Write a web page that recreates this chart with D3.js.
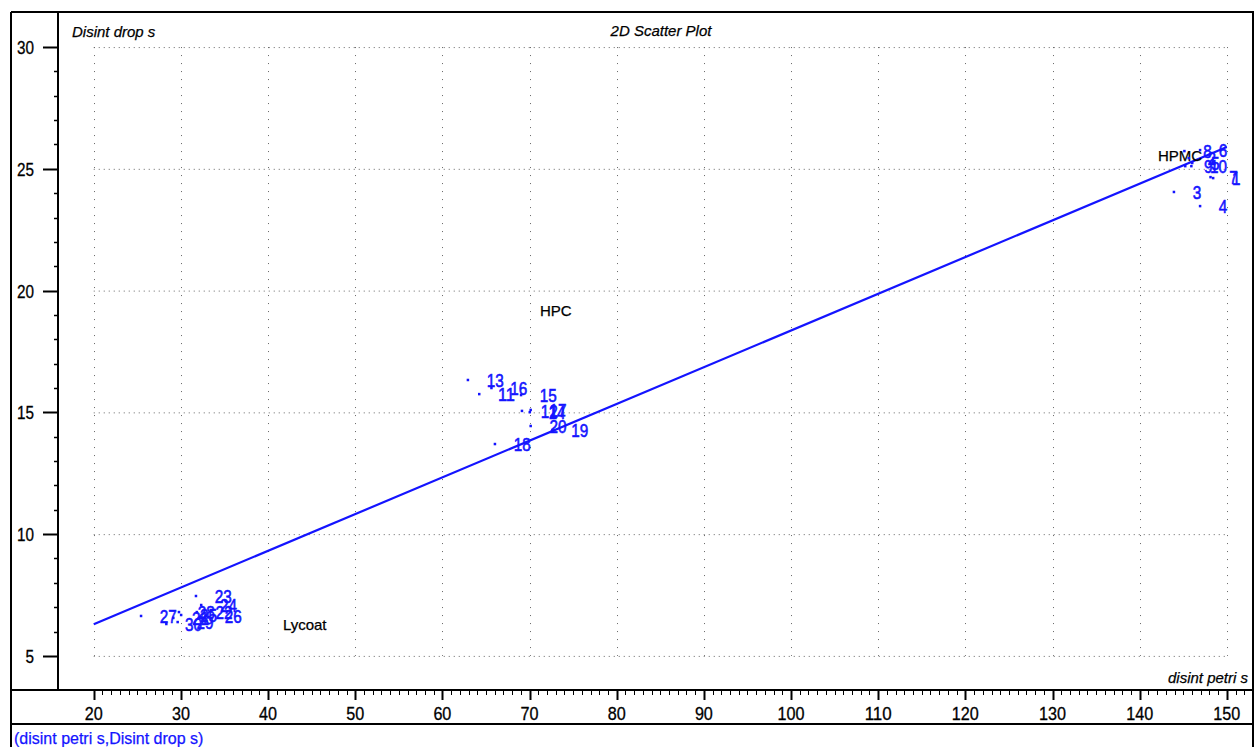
<!DOCTYPE html>
<html>
<head>
<meta charset="utf-8">
<script src="https://cdn.jsdelivr.net/npm/d3@7"></script>
<style>
  body { margin: 0; background: #fff; }
  text { font-family: Arial, "Liberation Sans", sans-serif; }
</style>
</head>
<body>
<div id="chart"></div>
<script>
// ---- data ----
const sampleIds = [1, 2, 3, 4, 5, 6, 7, 8, 9, 10,
                   11, 12, 13, 14, 15, 16, 17, 18, 19, 20,
                   21, 22, 23, 24, 25, 26, 27, 28, 29, 30];
const petri = [148.4, 145.6, 143.9, 146.9, 146.0, 146.9, 148.1, 145.1, 145.2, 145.9,
               64.2, 69.1, 62.9, 70.0, 69.0, 65.6, 70.1, 66.0, 72.6, 70.1,
               29.1, 31.8, 31.7, 32.3, 30.0, 32.85, 25.4, 29.75, 29.6, 28.3];
const drop = [24.63, 25.45, 24.06, 23.48, 25.25, 25.78, 24.67, 25.74, 25.12, 25.12,
              15.76, 15.07, 16.34, 15.02, 15.72, 16.01, 15.11, 13.71, 14.29, 14.45,
              6.57, 6.81, 7.47, 7.10, 6.69, 6.65, 6.65, 6.81, 6.40, 6.32];

const groupNames = ["HPMC", "HPC", "Lycoat"];
const groupX = [142.1, 71.2, 41.7];
const groupY = [25.33, 18.97, 6.08];

const fitX = [20, 150];
const fitY = [6.3, 25.9];

const xTicks = [20, 30, 40, 50, 60, 70, 80, 90, 100, 110, 120, 130, 140, 150];
const yTicks = [5, 10, 15, 20, 25, 30];

// ---- layout ----
const W = 1254, H = 747;
const plot = { left: 58, right: 1253, top: 12, bottom: 690 };
const blue = "#1414ff";

const svg = d3.select("#chart").append("svg")
  .attr("width", W)
  .attr("height", H);

const x = d3.scaleLinear().domain([15.9, 153.0]).range([plot.left, plot.right]);
const y = d3.scaleLinear().domain([3.6, 31.44]).range([plot.bottom, plot.top]);

// grid (dotted)
svg.append("g").selectAll("line").data(yTicks).join("line")
  .attr("x1", x(20)).attr("x2", x(150))
  .attr("y1", d => y(d) + 0.5).attr("y2", d => y(d) + 0.5)
  .attr("stroke", "#666").attr("stroke-width", 1)
  .attr("stroke-dasharray", "1,4");

svg.append("g").selectAll("line").data(xTicks).join("line")
  .attr("x1", d => Math.round(x(d)) + 0.5).attr("x2", d => Math.round(x(d)) + 0.5)
  .attr("y1", y(30)).attr("y2", y(5))
  .attr("stroke", "#666").attr("stroke-width", 1)
  .attr("stroke-dasharray", "1,7");

// x axis ticks
const xMinor = d3.range(20, 153, 1);
svg.append("g").selectAll("line").data(xMinor).join("line")
  .attr("x1", d => Math.round(x(d)) + 0.5).attr("x2", d => Math.round(x(d)) + 0.5)
  .attr("y1", plot.bottom)
  .attr("y2", d => plot.bottom + (d % 10 === 0 ? 10 : 5))
  .attr("stroke", "#000").attr("stroke-width", d => d % 10 === 0 ? 2 : 1);

svg.append("g").selectAll("text").data(xTicks).join("text")
  .attr("x", d => x(d)).attr("y", 720)
  .attr("text-anchor", "middle")
  .attr("font-size", 18)
  .attr("stroke", "#000").attr("stroke-width", 0.3)
  .attr("textLength", d => String(d).length * 9)
  .attr("lengthAdjust", "spacingAndGlyphs")
  .text(d => d);

// y axis ticks
const yMinor = d3.range(5, 31, 1);
svg.append("g").selectAll("line").data(yMinor).join("line")
  .attr("y1", d => Math.round(y(d)) + 0.5).attr("y2", d => Math.round(y(d)) + 0.5)
  .attr("x1", plot.left)
  .attr("x2", d => plot.left - (d % 5 === 0 ? 15 : 4))
  .attr("stroke", "#000").attr("stroke-width", d => d % 5 === 0 ? 2 : 1.5);

svg.append("g").selectAll("text").data(yTicks).join("text")
  .attr("x", 34).attr("y", d => y(d) + 7)
  .attr("text-anchor", "end")
  .attr("font-size", 18)
  .attr("stroke", "#000").attr("stroke-width", 0.3)
  .attr("textLength", d => String(d).length * 8.5)
  .attr("lengthAdjust", "spacingAndGlyphs")
  .text(d => d);

// frame
const frame = svg.append("g").attr("stroke", "#000").attr("stroke-width", 2);
frame.append("line").attr("x1", 11).attr("x2", W).attr("y1", 12).attr("y2", 12);
frame.append("line").attr("x1", 11).attr("x2", 11).attr("y1", 12).attr("y2", H);
frame.append("line").attr("x1", plot.left).attr("x2", plot.left).attr("y1", 12).attr("y2", plot.bottom);
frame.append("line").attr("x1", 11).attr("x2", W).attr("y1", plot.bottom).attr("y2", plot.bottom);
frame.append("line").attr("x1", 11).attr("x2", W).attr("y1", 724).attr("y2", 724);
frame.append("line").attr("x1", W - 1).attr("x2", W - 1).attr("y1", 12).attr("y2", H);

// titles
svg.append("text").attr("x", 72).attr("y", 37)
  .attr("font-size", 15).attr("font-style", "italic")
  .attr("stroke", "#000").attr("stroke-width", 0.25).text("Disint drop s");
svg.append("text").attr("x", 661).attr("y", 36)
  .attr("text-anchor", "middle")
  .attr("font-size", 15).attr("font-style", "italic")
  .attr("stroke", "#000").attr("stroke-width", 0.25).text("2D Scatter Plot");
svg.append("text").attr("x", 1248).attr("y", 683)
  .attr("text-anchor", "end")
  .attr("font-size", 15).attr("font-style", "italic")
  .attr("stroke", "#000").attr("stroke-width", 0.25).text("disint petri s");
svg.append("text").attr("x", 14).attr("y", 744)
  .attr("font-size", 16).attr("fill", blue)
  .attr("stroke", blue).attr("stroke-width", 0.25)
  .text("(disint petri s,Disint drop s)");

// regression line
svg.append("line")
  .attr("x1", x(fitX[0])).attr("y1", y(fitY[0]))
  .attr("x2", x(fitX[1])).attr("y2", y(fitY[1]))
  .attr("stroke", blue).attr("stroke-width", 2.2);

// group names
svg.append("g").selectAll("text").data(groupNames).join("text")
  .attr("x", (d, i) => x(groupX[i]))
  .attr("y", (d, i) => y(groupY[i]))
  .attr("font-size", 15)
  .attr("stroke", "#000").attr("stroke-width", 0.25)
  .text(d => d);

// points + sample numbers
const pts = sampleIds.map((id, i) => ({ id, px: petri[i], dy: drop[i] }));

svg.append("g").selectAll("rect").data(pts).join("rect")
  .attr("x", d => x(d.px) - 1).attr("y", d => y(d.dy) - 1)
  .attr("width", 2.5).attr("height", 2.5)
  .attr("fill", blue);

svg.append("g").selectAll("text").data(pts).join("text")
  .attr("x", d => x(d.px) + 19)
  .attr("y", d => y(d.dy) + 7)
  .attr("font-size", 19)
  .attr("fill", blue)
  .attr("stroke", blue).attr("stroke-width", 0.6)
  .attr("textLength", d => String(d.id).length * 8.5)
  .attr("lengthAdjust", "spacingAndGlyphs")
  .text(d => d.id);
</script>
</body>
</html>
